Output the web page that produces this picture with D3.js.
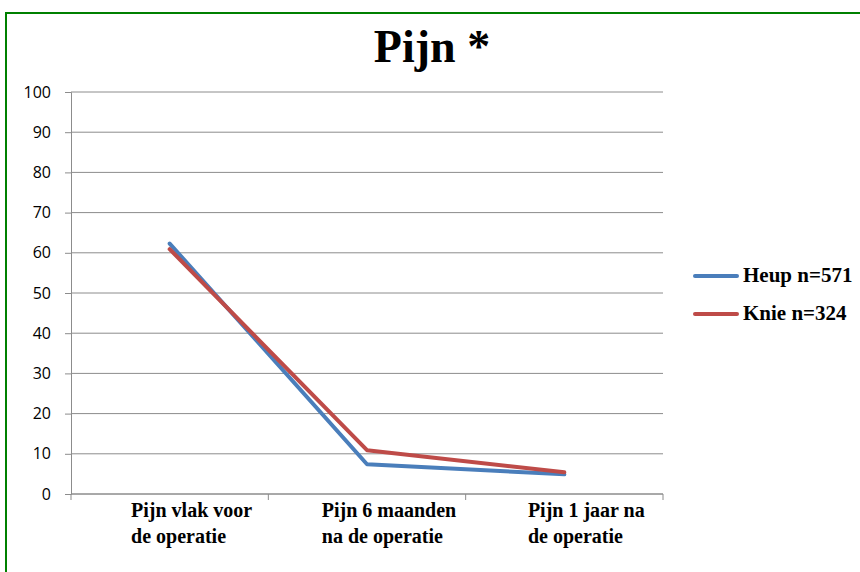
<!DOCTYPE html>
<html><head><meta charset="utf-8">
<script src="https://cdn.jsdelivr.net/npm/d3@7"></script>
<style>body{margin:0;background:#fff}</style>
</head><body>
<svg id="c" width="860" height="572"></svg>
<script>
const categories = [["Pijn vlak voor","de operatie"],["Pijn 6 maanden","na de operatie"],["Pijn 1 jaar na","de operatie"]];
const heup = [62.3, 7.4, 4.9];
const knie = [60.9, 10.9, 5.4];
const seriesNames = ["Heup n=571","Knie n=324"];
const yTicks = [0,10,20,30,40,50,60,70,80,90,100];

(function(){
const serif = "'Liberation Serif', 'DejaVu Serif', serif";
const svg = d3.select("#c");
svg.append("rect").attr("x",6).attr("y",13).attr("width",900).attr("height",600)
  .attr("fill","none").attr("stroke","#008000").attr("stroke-width",2);

svg.append("text").attr("x",432).attr("y",62).attr("text-anchor","middle")
  .attr("font-family",serif).attr("font-weight","bold").attr("font-size",46)
  .text("Pijn *");

const pL=71, pR=663, pT=92, pB=494;
const y = d3.scaleLinear().domain([0,100]).range([pB,pT]);
const xb = d3.scaleBand().domain(d3.range(categories.length)).range([pL,pR]);
const xc = i => xb(i)+xb.bandwidth()/2;

const g = svg.append("g");
g.selectAll("line.grid").data(yTicks).join("line")
  .attr("x1",pL).attr("x2",pR).attr("y1",d=>y(d)).attr("y2",d=>y(d))
  .attr("stroke","#8c8c8c").attr("stroke-width",1);

const yAxis = d3.axisLeft(y).tickValues(yTicks).tickSize(6).tickPadding(6);
const ya = svg.append("g").attr("transform",`translate(${pL},0)`).call(yAxis);
ya.select(".domain").attr("stroke","#8c8c8c");
ya.selectAll(".tick line").attr("stroke","#8c8c8c");
ya.selectAll("text").attr("font-family","'Open Sans', 'Liberation Sans', sans-serif").attr("font-size",16).attr("fill","#000").attr("dx",-8);

const xa = svg.append("g").attr("transform",`translate(0,${pB})`);
xa.append("line").attr("x1",pL).attr("x2",pR).attr("stroke","#8c8c8c");
const bounds = d3.range(categories.length+1).map(i => i<categories.length? xb(i) : xb(i-1)+xb.bandwidth());
xa.selectAll("line.t").data(bounds).join("line").attr("class","t")
  .attr("x1",d=>d).attr("x2",d=>d).attr("y1",0).attr("y2",6).attr("stroke","#8c8c8c");
const lab = xa.selectAll("text.c").data(categories).join("text").attr("class","c")
  .attr("font-family",serif).attr("font-weight","bold").attr("font-size",20)
  .attr("text-anchor","start");
lab.each(function(d,i){
  const t=d3.select(this);
  d.forEach((s,j)=>t.append("tspan").attr("x",xc(i)).attr("y",23+j*26).text(s));
});
lab.each(function(d,i){
  const w = this.getBBox().width;
  d3.select(this).selectAll("tspan").attr("x", xc(i)+22-w/2);
});

const line = d3.line().x((d,i)=>xc(i)).y(d=>y(d));
const colors = ["#4a7ebb","#be4b48"];
[heup,knie].forEach((s,k)=>{
  svg.append("path").datum(s).attr("d",line).attr("fill","none")
    .attr("stroke",colors[k]).attr("stroke-width",4).attr("stroke-linejoin","round").attr("stroke-linecap","round");
});

seriesNames.forEach((n,k)=>{
  const ly = 276 + k*38;
  svg.append("line").attr("x1",695).attr("x2",737).attr("y1",ly).attr("y2",ly)
    .attr("stroke",colors[k]).attr("stroke-width",4).attr("stroke-linecap","round");
  svg.append("text").attr("x",743).attr("y",ly+6).attr("font-family",serif)
    .attr("font-weight","bold").attr("font-size",21).text(n);
});
})();
</script>
</body></html>
